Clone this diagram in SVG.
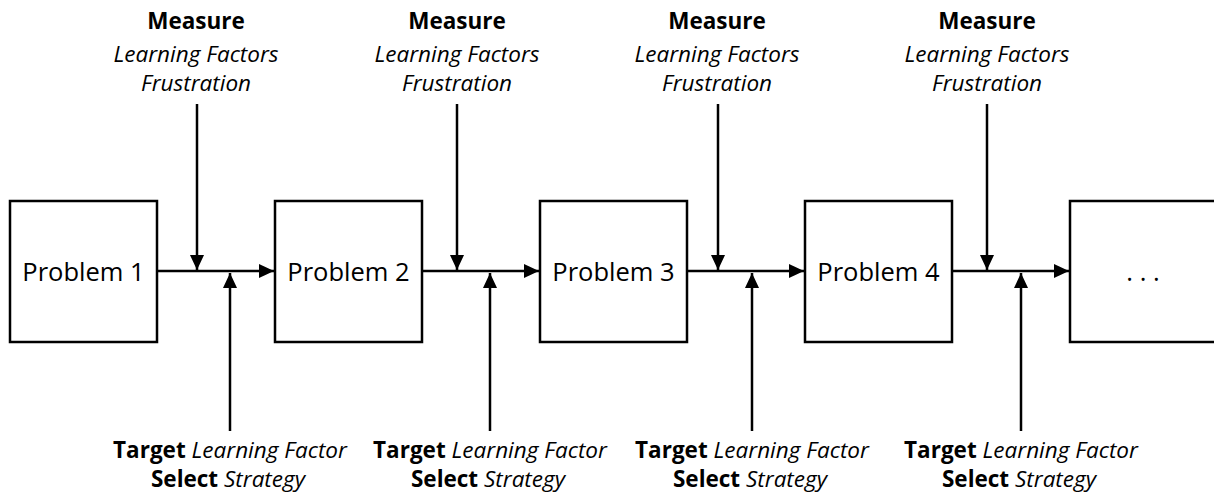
<svg xmlns="http://www.w3.org/2000/svg" width="1214" height="500" viewBox="0 0 1214 500">
<style>
.box{fill:#fff;stroke:#000;stroke-width:2.5}
.lbl{font-family:"Open Sans","Liberation Sans",sans-serif;font-size:25.5px;fill:#000;text-anchor:middle}
.ann{font-family:"Open Sans","Liberation Sans",sans-serif;font-size:22.5px;fill:#000;text-anchor:middle}
.b{font-weight:bold}
.i{font-style:italic}
.ln{stroke:#000;stroke-width:2.5;fill:none}
</style>
<defs>
<marker id="ah" markerUnits="userSpaceOnUse" markerWidth="16" markerHeight="14" refX="15" refY="7" orient="auto">
<path d="M0,0 L15,7 L0,14 Z" fill="#000"/>
</marker>
</defs>
<g id="p1"><rect class="box" x="10" y="201" width="147" height="141"/><text class="lbl" x="83.5" y="281">Problem 1</text></g>
<g id="p2"><rect class="box" x="275" y="201" width="147" height="141"/><text class="lbl" x="348.5" y="281">Problem 2</text></g>
<g id="p3"><rect class="box" x="540" y="201" width="147" height="141"/><text class="lbl" x="613.5" y="281">Problem 3</text></g>
<g id="p4"><rect class="box" x="805" y="201" width="147" height="141"/><text class="lbl" x="878.5" y="281">Problem 4</text></g>
<g id="p5"><rect class="box" x="1070" y="201" width="160" height="141"/><text class="lbl" x="1143" y="281">. . .</text></g>
<g id="connectors">
<line class="ln" x1="157" y1="271" x2="274" y2="271" marker-end="url(#ah)"/>
<line class="ln" x1="422" y1="271" x2="539" y2="271" marker-end="url(#ah)"/>
<line class="ln" x1="687" y1="271" x2="804" y2="271" marker-end="url(#ah)"/>
<line class="ln" x1="952" y1="271" x2="1069" y2="271" marker-end="url(#ah)"/>
<line class="ln" x1="197" y1="104" x2="197" y2="270" marker-end="url(#ah)"/>
<line class="ln" x1="457" y1="104" x2="457" y2="270" marker-end="url(#ah)"/>
<line class="ln" x1="718" y1="104" x2="718" y2="270" marker-end="url(#ah)"/>
<line class="ln" x1="987" y1="104" x2="987" y2="270" marker-end="url(#ah)"/>
<line class="ln" x1="230" y1="431" x2="230" y2="273" marker-end="url(#ah)"/>
<line class="ln" x1="490" y1="431" x2="490" y2="273" marker-end="url(#ah)"/>
<line class="ln" x1="752" y1="431" x2="752" y2="273" marker-end="url(#ah)"/>
<line class="ln" x1="1021" y1="431" x2="1021" y2="273" marker-end="url(#ah)"/>
</g>
<g id="measure1"><text class="ann b" x="196" y="29">Measure</text><text class="ann i" x="196" y="62">Learning Factors</text><text class="ann i" x="196" y="91">Frustration</text></g>
<g id="measure2"><text class="ann b" x="457" y="29">Measure</text><text class="ann i" x="457" y="62">Learning Factors</text><text class="ann i" x="457" y="91">Frustration</text></g>
<g id="measure3"><text class="ann b" x="717" y="29">Measure</text><text class="ann i" x="717" y="62">Learning Factors</text><text class="ann i" x="717" y="91">Frustration</text></g>
<g id="measure4"><text class="ann b" x="987" y="29">Measure</text><text class="ann i" x="987" y="62">Learning Factors</text><text class="ann i" x="987" y="91">Frustration</text></g>
<g id="target1"><text class="ann" x="230" y="458"><tspan class="b">Target</tspan> <tspan class="i">Learning Factor</tspan></text><text class="ann" x="228" y="487"><tspan class="b">Select</tspan> <tspan class="i">Strategy</tspan></text></g>
<g id="target2"><text class="ann" x="490" y="458"><tspan class="b">Target</tspan> <tspan class="i">Learning Factor</tspan></text><text class="ann" x="488" y="487"><tspan class="b">Select</tspan> <tspan class="i">Strategy</tspan></text></g>
<g id="target3"><text class="ann" x="752" y="458"><tspan class="b">Target</tspan> <tspan class="i">Learning Factor</tspan></text><text class="ann" x="750" y="487"><tspan class="b">Select</tspan> <tspan class="i">Strategy</tspan></text></g>
<g id="target4"><text class="ann" x="1021" y="458"><tspan class="b">Target</tspan> <tspan class="i">Learning Factor</tspan></text><text class="ann" x="1019" y="487"><tspan class="b">Select</tspan> <tspan class="i">Strategy</tspan></text></g>
</svg>
